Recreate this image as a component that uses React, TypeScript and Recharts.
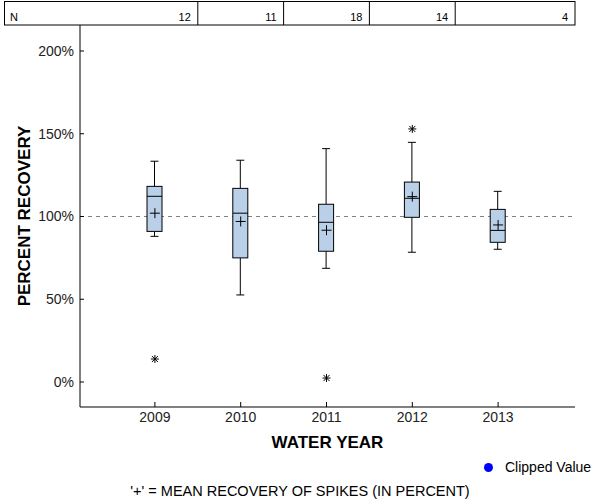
// App.tsx

import React from "react";
import {
  ComposedChart,
  Bar,
  Scatter,
  XAxis,
  YAxis,
  CartesianGrid,
} from "recharts";

// spike recovery summary per water year (percent)
const years = ["2009", "2010", "2011", "2012", "2013"];
const nCounts = [12, 11, 18, 14, 4];
const whiskerLow = [88, 52.6, 68.7, 78.4, 80.2];
const quart1 = [91, 75, 79, 99.5, 84.4];
const medians = [112.2, 102, 96.5, 111, 91.6];
const quart3 = [118.2, 117, 107.4, 120.8, 104.3];
const whiskerHigh = [133.4, 134, 141, 144.8, 115.2];
const means = [102, 97, 91.7, 112, 94.9];
const outliers = [13.9, null, 2.4, 152.9, null];
const yTicks = [0, 50, 100, 150, 200];
const refValues = [100];

const data = years.map((year, i) => ({
  year,
  n: nCounts[i],
  low: whiskerLow[i],
  q1: quart1[i],
  median: medians[i],
  q3: quart3[i],
  high: whiskerHigh[i],
  mean: means[i],
  outlier: outliers[i],
}));

const W = 600;
const H = 500;
const TABLE_RIGHT = 575;
const FONT = 'Arial, "Liberation Sans", sans-serif';
const BOX_FILL = "#bad0e8";

// box + whiskers, positioned from the range bar the library lays out
const BoxShape = (props: any) => {
  const { x, y, width, height, payload } = props;
  if (!payload || x == null || y == null) return <g />;
  const top = Math.min(y, y + height);
  const bottom = Math.max(y, y + height);
  const span = payload.high - payload.low;
  const toY = (v: number) => top + ((payload.high - v) / span) * (bottom - top);
  const cx = x + width / 2;
  const cap = 4;
  return (
    <g stroke="#000" strokeWidth={1}>
      <line x1={cx} x2={cx} y1={toY(payload.high)} y2={toY(payload.q3)} />
      <line x1={cx} x2={cx} y1={toY(payload.q1)} y2={toY(payload.low)} />
      <line x1={cx - cap} x2={cx + cap} y1={toY(payload.high)} y2={toY(payload.high)} />
      <line x1={cx - cap} x2={cx + cap} y1={toY(payload.low)} y2={toY(payload.low)} />
      <rect
        x={x}
        y={toY(payload.q3)}
        width={width}
        height={toY(payload.q1) - toY(payload.q3)}
        fill={BOX_FILL}
      />
      <line x1={x} x2={x + width} y1={toY(payload.median)} y2={toY(payload.median)} />
    </g>
  );
};

const PlusShape = (props: any) => {
  const { cx, cy } = props;
  if (cx == null || cy == null || isNaN(cy)) return <g />;
  return (
    <g stroke="#000" strokeWidth={1}>
      <line x1={cx - 5} x2={cx + 5} y1={cy} y2={cy} />
      <line x1={cx} x2={cx} y1={cy - 5} y2={cy + 5} />
    </g>
  );
};

const StarShape = (props: any) => {
  const { cx, cy, payload } = props;
  if (!payload || payload.outlier == null || cy == null || isNaN(cy)) return <g />;
  const r = 4;
  return (
    <g stroke="#000" strokeWidth={1}>
      <line x1={cx - r} x2={cx + r} y1={cy} y2={cy} />
      <line x1={cx} x2={cx} y1={cy - r} y2={cy + r} />
      <line x1={cx - 3} x2={cx + 3} y1={cy - 3} y2={cy + 3} />
      <line x1={cx - 3} x2={cx + 3} y1={cy + 3} y2={cy - 3} />
    </g>
  );
};

// the N row across the top, one cell per year band
const NTick = (props: any) => {
  const { x, y, payload, index } = props;
  const half = payload && payload.offset ? payload.offset : 43;
  const last = index === years.length - 1;
  const right = last ? TABLE_RIGHT : x + half;
  return (
    <g>
      {index === 0 && (
        <>
          <rect
            x={4.5}
            y={y - 23.5}
            width={TABLE_RIGHT - 4.5}
            height={23.5}
            fill="none"
            stroke="#000"
          />
          <text x={10} y={y - 4} fontSize={11} fontFamily={FONT} fill="#000">
            N
          </text>
        </>
      )}
      {!last && <line x1={right} x2={right} y1={y - 24} y2={y} stroke="#000" />}
      <text
        x={right - 7}
        y={y - 4}
        textAnchor="end"
        fontSize={11}
        fontFamily={FONT}
        fill="#000"
      >
        {nCounts[index]}
      </text>
    </g>
  );
};

const App = () => {
  return (
    <div style={{ position: "absolute", left: 0, top: 0, width: W, height: H, background: "#fff" }}>
      <ComposedChart
        width={W}
        height={H}
        data={data}
        margin={{ top: 1, right: 25, bottom: 43, left: 0 }}
      >
        <CartesianGrid
          vertical={false}
          horizontalValues={refValues}
          stroke="#808080"
          strokeDasharray="4 4"
        />
        <XAxis
          xAxisId="top"
          orientation="top"
          dataKey="year"
          height={24}
          padding={{ left: 32, right: 34 }}
          axisLine={false}
          tickLine={false}
          tickSize={0}
          tickMargin={0}
          tick={<NTick />}
          interval={0}
        />
        <XAxis
          dataKey="year"
          height={50}
          padding={{ left: 32, right: 34 }}
          stroke="#000"
          tickSize={-5}
          tickMargin={10}
          interval={0}
          tick={{ fontSize: 14, fontFamily: FONT, fill: "#222" }}
          label={{
            content: (p: any) => {
              const vb = p.viewBox || { x: 80, y: 407, width: 495 };
              return (
                <text
                  x={vb.x + vb.width / 2}
                  y={vb.y + 41}
                  textAnchor="middle"
                  fontSize={17}
                  fontWeight="bold"
                  fontFamily={FONT}
                  fill="#000"
                >
                  WATER YEAR
                </text>
              );
            },
          }}
        />
        <YAxis
          width={80}
          domain={[-15.1, 215.7]}
          ticks={yTicks}
          allowDataOverflow
          stroke="#000"
          tickSize={-4}
          tickMargin={10}
          tickFormatter={(v: number) => `${v}%`}
          tick={{ fontSize: 14, fontFamily: FONT, fill: "#222" }}
          label={{
            content: (p: any) => {
              const vb = p.viewBox || { x: 0, y: 25, height: 382 };
              const cx = vb.x + 24;
              const cy = vb.y + vb.height / 2;
              return (
                <text
                  x={cx}
                  y={cy}
                  transform={`rotate(-90 ${cx} ${cy})`}
                  textAnchor="middle"
                  dominantBaseline="central"
                  fontSize={17}
                  fontWeight="bold"
                  fontFamily={FONT}
                  fill="#000"
                >
                  PERCENT RECOVERY
                </text>
              );
            },
          }}
        />
        <YAxis
          yAxisId="right"
          orientation="right"
          width={0}
          domain={[-15.1, 215.7]}
          allowDataOverflow
          stroke="#000"
          tick={false}
          tickLine={false}
        />
        <Bar
          dataKey={(d: any) => [d.low, d.high]}
          barSize={15}
          shape={<BoxShape />}
          isAnimationActive={false}
        />
        <Scatter dataKey="mean" shape={<PlusShape />} isAnimationActive={false} />
        <Scatter dataKey="outlier" shape={<StarShape />} isAnimationActive={false} />
      </ComposedChart>
      <div
        style={{
          position: "absolute",
          left: 484,
          top: 459,
          display: "flex",
          alignItems: "center",
          fontFamily: FONT,
          fontSize: 14,
          color: "#000",
        }}
      >
        <span
          style={{
            display: "inline-block",
            width: 9,
            height: 9,
            borderRadius: "50%",
            background: "#0000ff",
            marginRight: 12,
          }}
        />
        Clipped Value
      </div>
      <div
        style={{
          position: "absolute",
          left: 0,
          width: W,
          top: 483,
          textAlign: "center",
          fontFamily: FONT,
          fontSize: 14.5,
          color: "#000",
        }}
      >
        '+' = MEAN RECOVERY OF SPIKES (IN PERCENT)
      </div>
    </div>
  );
};

export default App;
